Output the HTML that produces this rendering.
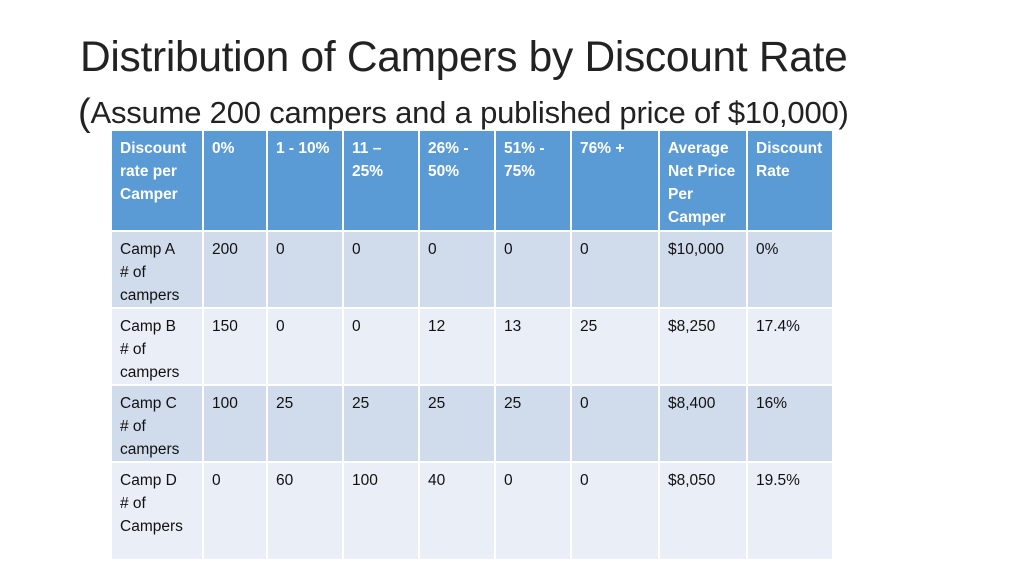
<!DOCTYPE html>
<html><head><meta charset="utf-8"><style>
body{margin:0;width:1024px;height:576px;background:#fff;position:relative;overflow:hidden;font-family:"Liberation Sans",sans-serif;}
.t{position:absolute;color:#222;white-space:nowrap}
.c{position:absolute;box-sizing:border-box;padding:6px 0 0 8px;font-size:15.5px;line-height:23px;color:#111}
.h{background:#5b9bd5;color:#fff;font-weight:bold}
.a{background:#d0dbec}
.b{background:#e9eef7}
</style></head><body>
<div class="t" style="left:80px;top:34px;font-size:42.5px;letter-spacing:-0.3px">Distribution of Campers by Discount Rate</div>
<div class="t" style="left:78px;top:90px;font-size:31px;letter-spacing:-0.2px"><span style="font-size:38px;position:relative;top:2px">(</span>Assume 200 campers and a published price of $10,000)</div>
<div id="tbl"></div>
<script>
const xs=[112,204,268,344,420,496,572,660,748,834];
const ys=[131,232,309,386,463,561];
const header=["Discount rate per Camper","0%","1 - 10%","11 –<br>25%","26% -<br>50%","51% -<br>75%","76% +","Average Net Price Per Camper","Discount Rate"];
const campA=["Camp A<br># of<br>campers","200","0","0","0","0","0","$10,000","0%"];
const campB=["Camp B<br># of<br>campers","150","0","0","12","13","25","$8,250","17.4%"];
const campC=["Camp C<br># of<br>campers","100","25","25","25","25","0","$8,400","16%"];
const campD=["Camp D<br># of<br>Campers","0","60","100","40","0","0","$8,050","19.5%"];
const rows=[header,campA,campB,campC,campD];
const cls=["h","a","b","a","b"];
const tbl=document.getElementById('tbl');
rows.forEach((r,ri)=>{r.forEach((v,ci)=>{
 const d=document.createElement('div');
 d.className='c '+cls[ri];
 
 
 d.style.left=xs[ci]+'px';d.style.top=ys[ri]+'px';
 d.style.width=(xs[ci+1]-xs[ci]-2)+'px';d.style.height=(ys[ri+1]-ys[ri]-2)+'px';
 if(ci==0||ci==7)d.style.whiteSpace='normal';
 d.innerHTML=v;tbl.appendChild(d);
});});
</script>
</body></html>
